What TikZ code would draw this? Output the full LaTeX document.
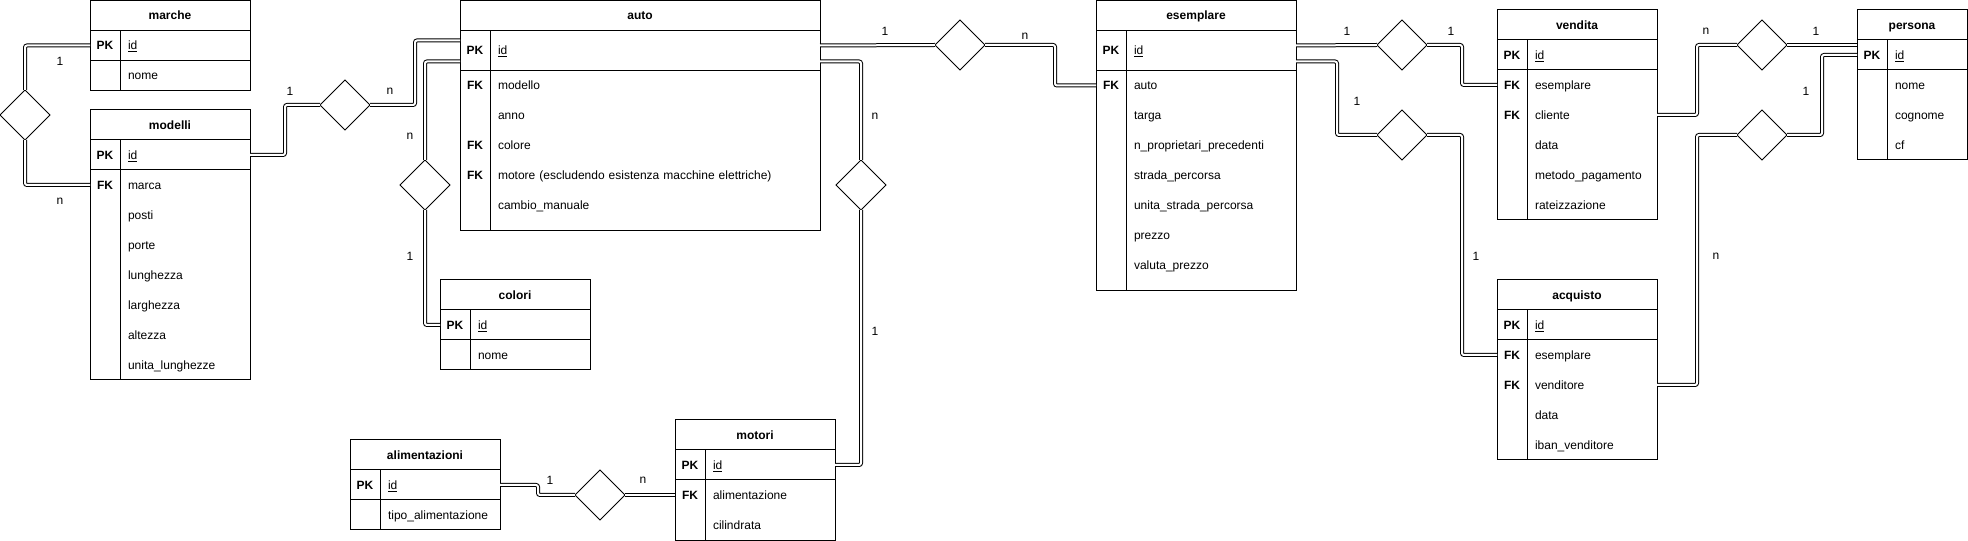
\documentclass[tikz,border=0pt]{standalone}
\usepackage{fontspec}
\setmainfont{Liberation Sans}
\usepackage{tikz}
\usetikzlibrary{shapes.geometric}

\newlength\px
\setlength\px{0.75pt}
\newcommand{\erfont}{\fontsize{9}{11}\selectfont}

% #1 name, #2 x, #3 y, #4 width, #5 title, #6 pk height, #7 rows, #8 bottom padding
\newcommand{\ertable}[8]{%
	\pgfmathsetlengthmacro\tblw{#4*\px}
	\pgfmathsetlengthmacro\fldw{(#4-30)*\px}
	\pgfmathsetlengthmacro\txtw{(#4-46)*\px}
	\pgfmathsetlengthmacro\pkh{#6*\px}
	\node[thead, minimum width=\tblw] (#1) at (#2,#3) {#5};
	\node[kcell, minimum height=\pkh] (#1-pk) at (#1.south west) {PK};
	\node[fcell, minimum width=\fldw, text width=\txtw, minimum height=\pkh] (#1-id) at (#1-pk.north east) {\underline{id}};
	\draw (#1-pk.north west) rectangle (#1-id.south east);
	\foreach \k/\f [count=\i] in {#7}
	{
		\node[kcell] (#1-k\i) at ({#2},{#3+30+#6+30*(\i-1)}) {\k};
		\node[fcell, minimum width=\fldw, text width=\txtw] (#1-f\i) at (#1-k\i.north east) {\f};
		\xdef\lastrow{\i}
	}
	\draw (#1-k1.north west) rectangle ([yshift=-#8\px]#1-f\lastrow.south east);
	\draw (#1-pk.north east) -- ([yshift=-#8\px]#1-k\lastrow.south east);
}

\begin{document}
\begin{tikzpicture}
	[   x=\px, y=-\px, line width=1\px,
		thead/.style={draw, anchor=north west, minimum height=30\px, inner sep=0pt, outer sep=0pt, font=\erfont\bfseries, text height=1.6ex, text depth=.4ex},
		kcell/.style={anchor=north west, minimum width=30\px, minimum height=30\px, inner sep=0pt, outer sep=0pt, font=\erfont\bfseries, text height=1.6ex, text depth=.4ex},
		fcell/.style={anchor=north west, minimum height=30\px, inner xsep=8\px, inner ysep=0pt, outer sep=0pt, align=left, font=\erfont, text height=1.6ex, text depth=.4ex},
		rnode/.style={draw, diamond, minimum width=50\px, minimum height=50\px, inner sep=0pt, outer sep=0pt},
	]
	\tikzset{double link/.style={draw, double, double distance=2\px, rounded corners=2\px},
		card/.style={font=\erfont, inner sep=0pt}}
	\useasboundingbox (0,0) rectangle (1968,541);
	
	\ertable{marche}{90}{0.5}{160}{marche}{30}{{}/nome}{0}
	\ertable{modelli}{90}{110}{160}{modelli}{30}{FK/marca, {}/posti, {}/porte, {}/lunghezza, {}/larghezza, {}/altezza, {}/unita\_lunghezze}{0}
	\ertable{auto}{460}{0.5}{360}{auto}{40}{FK/modello, {}/anno, FK/colore, FK/{motore (escludendo esistenza macchine elettriche)}, {}/cambio\_manuale}{10}
	\ertable{colori}{440}{280}{150}{colori}{30}{{}/nome}{0}
	\ertable{alimentazioni}{350}{440}{150}{alimentazioni}{30}{{}/tipo\_alimentazione}{0}
	\ertable{motori}{675}{420}{160}{motori}{30}{FK/alimentazione, {}/cilindrata}{0}
	\ertable{esemplare}{1096}{0.5}{200}{esemplare}{40}{FK/auto, {}/targa, {}/n\_proprietari\_precedenti, {}/strada\_percorsa, {}/unita\_strada\_percorsa, {}/prezzo, {}/valuta\_prezzo}{10}
	\ertable{vendita}{1497}{10}{160}{vendita}{30}{FK/esemplare, FK/cliente, {}/data, {}/metodo\_pagamento, {}/rateizzazione}{0}
	\ertable{acquisto}{1497}{280}{160}{acquisto}{30}{FK/esemplare, FK/venditore, {}/data, {}/iban\_venditore}{0}
	\ertable{persona}{1857}{10}{110}{persona}{30}{{}/nome, {}/cognome, {}/cf}{0}
	
	% relazioni
	\node[rnode] (r-marca) at (25,115) {};
	\node[rnode] (r-modello) at (345,105) {};
	\node[rnode] (r-colore) at (425,185) {};
	\node[rnode] (r-motore) at (861,185) {};
	\node[rnode] (r-alim) at (600,495) {};
	\node[rnode] (r-auto) at (960,45) {};
	\node[rnode] (r-vendita) at (1402,45) {};
	\node[rnode] (r-acquisto) at (1402,135) {};
	\node[rnode] (r-cliente) at (1762,45) {};
	\node[rnode] (r-venditore) at (1762,135) {};
	
	\path[double link] (marche-pk.west) -| (r-marca.north);
	\path[double link] (r-marca.south) |- (modelli-k1.west);
	\path[double link] (modelli-id.east) -- ++(35,0) |- (r-modello.west);
	\path[double link] (r-modello.east) -- ++(45,0) |- ([yshift=10\px]auto-pk.west);
	\path[double link] ([yshift=-11\px]auto-pk.west) -| (r-colore.north);
	\path[double link] (r-colore.south) |- (colori-pk.west);
	\path[double link] ([yshift=-11\px]auto-id.east) -| (r-motore.north);
	\path[double link] (r-motore.south) |- (motori-id.east);
	\path[double link] (alimentazioni-id.east) -- ++(38,0) |- (r-alim.west);
	\path[double link] (r-alim.east) -- (motori-k1.west);
	\path[double link] ([yshift=5\px]auto-id.east) -- (r-auto.west);
	\path[double link] (r-auto.east) -- ++(70,0) |- (esemplare-k1.west);
	\path[double link] ([yshift=5\px]esemplare-id.east) -- (r-vendita.west);
	\path[double link] (r-vendita.east) -- ++(35,0) |- (vendita-k1.west);
	\path[double link] ([yshift=-11\px]esemplare-id.east) -- ++(41,0) |- (r-acquisto.west);
	\path[double link] (r-acquisto.east) -- ++(35,0) |- (acquisto-k1.west);
	\path[double link] (vendita-f2.east) -- ++(40,0) |- (r-cliente.west);
	\path[double link] (r-cliente.east) -- ([yshift=10\px]persona-pk.west);
	\path[double link] (acquisto-f2.east) -- ++(40,0) |- (r-venditore.west);
	\path[double link] (r-venditore.east) -- ++(35,0) |- (persona-pk.west);
	
	% cardinalita
	\foreach \cx/\cy/\t [count=\i] in {60/61/1, 60/201/n, 290/91/1, 390/91/n, 410/136/n, 410/256/1, 875/116/n, 875/331/1, 550/480/1, 643/480/n, 885/31/1, 1025/36/n, 1347/31/1, 1451/31/1, 1357/101/1, 1476/256/1, 1706/31/n, 1816/31/1, 1806/91/1, 1716/256/n}
	{
		\node[card] (card-\i) at (\cx,\cy) {\t};
	}
\end{tikzpicture}
\end{document}
